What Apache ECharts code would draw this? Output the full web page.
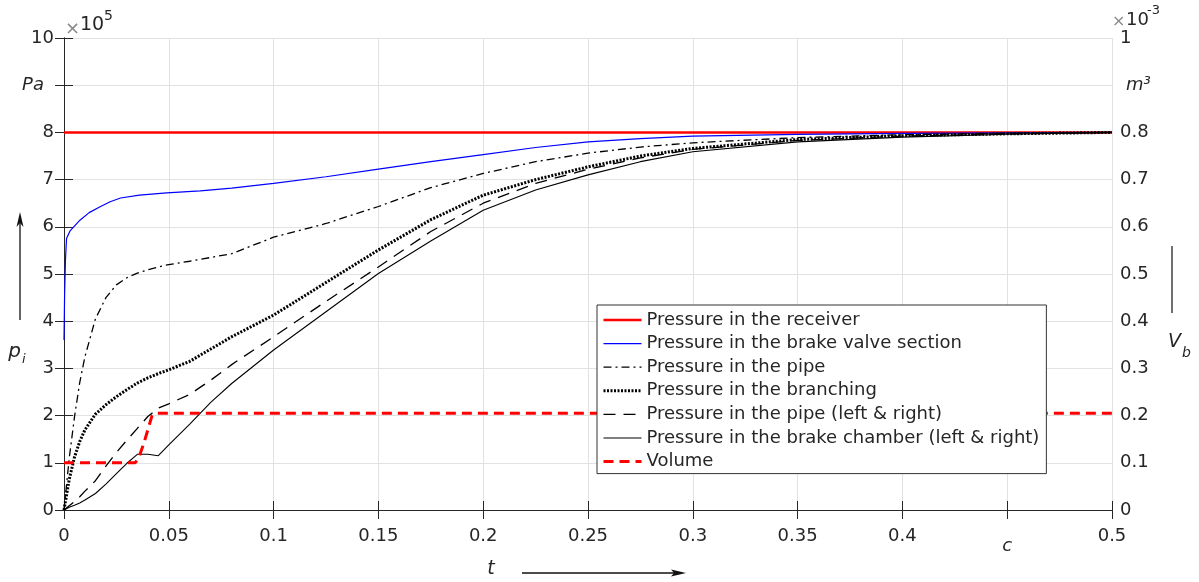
<!DOCTYPE html>
<html><head><meta charset="utf-8">
<script src="https://cdn.jsdelivr.net/npm/echarts@6/dist/echarts.min.js"></script>
<style>html,body{margin:0;padding:0;background:#fff}#c{width:1199px;height:582px}</style>
</head><body><div id="c"></div>
<script>
// ---- data (time in s, pressure in 1e5 Pa, volume in 1e-3 m^3) ----
const tReceiver = [0, 0.5];
const pReceiver = [8, 8];

const tValve = [0, 0.0003, 0.0007, 0.0012, 0.003, 0.0076, 0.012, 0.017, 0.022, 0.027, 0.036, 0.049, 0.065, 0.08, 0.1, 0.125, 0.15, 0.175, 0.2, 0.225, 0.25, 0.275, 0.3, 0.35, 0.4, 0.5];
const pValve = [3.6, 4.6, 5.3, 5.75, 5.92, 6.14, 6.3, 6.42, 6.53, 6.61, 6.67, 6.72, 6.76, 6.82, 6.92, 7.06, 7.22, 7.38, 7.53, 7.68, 7.8, 7.87, 7.92, 7.96, 7.98, 8.0];

const tBlack = [0, 0.0025, 0.005, 0.0075, 0.01, 0.015, 0.02, 0.025, 0.03, 0.035, 0.04, 0.045, 0.05, 0.06, 0.07, 0.08, 0.1, 0.125, 0.15, 0.175, 0.2, 0.225, 0.25, 0.275, 0.3, 0.35, 0.4, 0.45, 0.5];
const pPipe    = [0, 1.1, 1.97, 2.7, 3.25, 4.05, 4.5, 4.77, 4.92, 5.02, 5.09, 5.15, 5.2, 5.27, 5.35, 5.43, 5.78, 6.07, 6.43, 6.83, 7.13, 7.38, 7.56, 7.69, 7.78, 7.89, 7.95, 7.98, 8.0];
const pBranch  = [0, 0.65, 1.12, 1.45, 1.7, 2.03, 2.23, 2.4, 2.55, 2.69, 2.8, 2.89, 2.97, 3.15, 3.41, 3.67, 4.13, 4.82, 5.51, 6.15, 6.67, 7.0, 7.27, 7.5, 7.66, 7.85, 7.93, 7.97, 8.0];
const pPipeLR  = [0, 0.09, 0.18, 0.28, 0.4, 0.62, 0.93, 1.22, 1.48, 1.73, 1.98, 2.16, 2.25, 2.45, 2.75, 3.08, 3.67, 4.42, 5.15, 5.9, 6.5, 6.92, 7.22, 7.46, 7.64, 7.83, 7.92, 7.97, 8.0];
const pChamber = [0, 0.06, 0.1, 0.15, 0.21, 0.35, 0.55, 0.77, 0.99, 1.18, 1.18, 1.15, 1.38, 1.82, 2.28, 2.68, 3.39, 4.2, 5.01, 5.7, 6.35, 6.78, 7.1, 7.38, 7.59, 7.8, 7.9, 7.96, 8.0];

const tVolume = [0, 0.034, 0.036, 0.038, 0.04, 0.042, 0.044, 0.5];
const vVolume = [0.1, 0.1, 0.115, 0.14, 0.17, 0.2, 0.205, 0.205];

const seriesNames = [
  'Pressure in the receiver',
  'Pressure in the brake valve section',
  'Pressure in the pipe',
  'Pressure in the branching',
  'Pressure in the pipe (left & right)',
  'Pressure in the brake chamber (left & right)',
  'Volume'
];

const zip = (t, v) => t.map((x, i) => [x, v[i]]);
const FONT = 'DejaVu Sans';
const TXT = '#262626';
const GRID = '#e2e2e2';

const chart = echarts.init(document.getElementById('c'), null, {renderer: 'canvas'});

const lineBase = {type: 'line', showSymbol: false, symbol: 'none', animation: false, silent: true, smooth: false, z: 2};

const option = {
  animation: false,
  backgroundColor: '#fff',
  grid: {left: 64, right: 87, top: 38, bottom: 72, containLabel: false},
  legend: {
    orient: 'vertical', left: 597, top: 305, z: 20,
    padding: [6, 7, 3, 5],
    itemWidth: 38, itemHeight: 18, itemGap: 5.6,
    backgroundColor: '#fff', borderColor: '#333', borderWidth: 1,
    itemStyle: {opacity: 0, borderWidth: 0},
    lineStyle: {width: 'inherit'},
    textStyle: {fontFamily: FONT, fontSize: 18, color: TXT, lineHeight: 18},
    data: seriesNames
  },
  xAxis: [{
    type: 'value', min: 0, max: 0.5, interval: 0.05, position: 'bottom',
    axisLine: {show: true, lineStyle: {color: TXT, width: 1}},
    axisTick: {show: true, inside: true, length: 9, lineStyle: {color: TXT}},
    splitLine: {show: true, lineStyle: {color: GRID, width: 1}},
    axisLabel: {
      margin: 17, fontFamily: FONT, fontSize: 18, color: TXT,
      formatter: v => Math.abs(v - 0.45) < 1e-9 ? '{c|c}' : String(+v.toFixed(2)),
      rich: {c: {fontFamily: FONT, fontSize: 18, fontStyle: 'italic', color: TXT, padding: [10, 0, 0, 0]}}
    }
  }, {
    type: 'value', min: 0, max: 0.5, interval: 0.05, position: 'top',
    axisLine: {show: true, lineStyle: {color: TXT, width: 1}},
    axisTick: {show: true, inside: true, length: 9, lineStyle: {color: TXT}},
    splitLine: {show: false}, axisLabel: {show: false}
  }],
  yAxis: [{
    type: 'value', min: 0, max: 10, interval: 1, position: 'left',
    axisLine: {show: true, lineStyle: {color: TXT, width: 1}},
    axisTick: {show: true, inside: true, length: 9, lineStyle: {color: TXT}},
    splitLine: {show: true, lineStyle: {color: GRID, width: 1}},
    axisLabel: {
      margin: 10, fontFamily: FONT, fontSize: 18, color: TXT,
      formatter: v => Math.abs(v - 9) < 1e-9 ? '{pa|Pa}' : String(Math.round(v)),
      rich: {pa: {fontFamily: FONT, fontSize: 18, fontStyle: 'italic', color: TXT, padding: [0, 10, 0, 0]}}
    }
  }, {
    type: 'value', min: 0, max: 1, interval: 0.1, position: 'right',
    axisLine: {show: true, lineStyle: {color: TXT, width: 1}},
    axisTick: {show: true, inside: true, length: 9, lineStyle: {color: TXT}},
    splitLine: {show: false},
    axisLabel: {
      margin: 8, fontFamily: FONT, fontSize: 18, color: TXT,
      formatter: v => Math.abs(v - 0.9) < 1e-9 ? '{m|m\u00B3}' : String(+v.toFixed(1)),
      rich: {m: {fontFamily: FONT, fontSize: 18, fontStyle: 'italic', color: TXT, padding: [0, 0, 0, 6]}}
    }
  }],
  series: [
    Object.assign({}, lineBase, {name: seriesNames[0], data: zip(tReceiver, pReceiver),
      lineStyle: {color: '#ff0000', width: 2.5}, itemStyle: {color: '#ff0000'}}),
    Object.assign({}, lineBase, {name: seriesNames[1], data: zip(tValve, pValve),
      lineStyle: {color: '#0000ff', width: 1.2}, itemStyle: {color: '#0000ff'}}),
    Object.assign({}, lineBase, {name: seriesNames[2], data: zip(tBlack, pPipe),
      lineStyle: {color: '#000', width: 1.3, type: [8, 4, 2, 4]}, itemStyle: {color: '#000'}}),
    Object.assign({}, lineBase, {name: seriesNames[3], data: zip(tBlack, pBranch),
      lineStyle: {color: '#000', width: 3, type: [2, 1.5]}, itemStyle: {color: '#000'}}),
    Object.assign({}, lineBase, {name: seriesNames[4], data: zip(tBlack, pPipeLR),
      lineStyle: {color: '#000', width: 1.3, type: [12, 8]}, itemStyle: {color: '#000'}}),
    Object.assign({}, lineBase, {name: seriesNames[5], data: zip(tBlack, pChamber),
      lineStyle: {color: '#000', width: 1.1}, itemStyle: {color: '#000'}}),
    Object.assign({}, lineBase, {name: seriesNames[6], data: zip(tVolume, vVolume), yAxisIndex: 1,
      lineStyle: {color: '#ff0000', width: 3, type: [10, 6]}, itemStyle: {color: '#ff0000'}})
  ],
  graphic: [
    // x10^5 multiplier
    {type: 'text', x: 65, y: 29, style: {text: '\u00D7', fontFamily: FONT, fontSize: 18, fill: '#8a8a8a', verticalAlign: 'middle'}},
    {type: 'text', x: 80, y: 25, style: {text: '10', fontFamily: FONT, fontSize: 19, fill: TXT, verticalAlign: 'middle'}},
    {type: 'text', x: 104, y: 16, style: {text: '5', fontFamily: FONT, fontSize: 14, fill: TXT, verticalAlign: 'middle'}},
    // x10^-3 multiplier
    {type: 'text', x: 1112, y: 22, style: {text: '\u00D7', fontFamily: FONT, fontSize: 16, fill: '#8a8a8a', verticalAlign: 'middle'}},
    {type: 'text', x: 1126, y: 20, style: {text: '10', fontFamily: FONT, fontSize: 18, fill: TXT, verticalAlign: 'middle'}},
    {type: 'text', x: 1147, y: 11, style: {text: '-3', fontFamily: FONT, fontSize: 13, fill: TXT, verticalAlign: 'middle'}},
    // p_i with arrow
    {type: 'line', shape: {x1: 20, y1: 320, x2: 20, y2: 222}, style: {stroke: '#111', lineWidth: 1.3}},
    {type: 'polygon', shape: {points: [[20, 212], [16.5, 227], [20, 223], [23.5, 227]]}, style: {fill: '#111'}},
    {type: 'text', x: 21, y: 352, style: {text: 'p', fontFamily: FONT, fontSize: 20, fontStyle: 'italic', fill: TXT, align: 'right', verticalAlign: 'middle'}},
    {type: 'text', x: 22, y: 360, style: {text: 'i', fontFamily: FONT, fontSize: 13, fontStyle: 'italic', fill: TXT, align: 'left', verticalAlign: 'middle'}},
    // V_b with line
    {type: 'line', shape: {x1: 1172, y1: 313, x2: 1172, y2: 246}, style: {stroke: '#111', lineWidth: 1.2}},
    {type: 'text', x: 1181, y: 342, style: {text: 'V', fontFamily: FONT, fontSize: 19, fontStyle: 'italic', fill: TXT, align: 'right', verticalAlign: 'middle'}},
    {type: 'text', x: 1182, y: 353, style: {text: 'b', fontFamily: FONT, fontSize: 14, fontStyle: 'italic', fill: TXT, align: 'left', verticalAlign: 'middle'}},
    // t with arrow
    {type: 'text', x: 491, y: 569, style: {text: 't', fontFamily: FONT, fontSize: 19, fontStyle: 'italic', fill: TXT, align: 'center', verticalAlign: 'middle'}},
    {type: 'line', shape: {x1: 522, y1: 573, x2: 676, y2: 573}, style: {stroke: '#111', lineWidth: 1.3}},
    {type: 'polygon', shape: {points: [[686, 573], [671, 569.5], [674, 573], [671, 576.5]]}, style: {fill: '#111'}}
  ]
};
chart.setOption(option);
</script>
</body></html>
